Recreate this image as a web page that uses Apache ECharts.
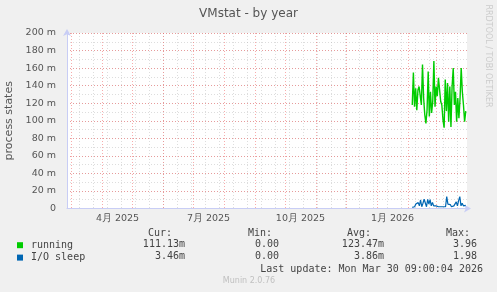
<!DOCTYPE html>
<html>
<head>
<meta charset="utf-8">
<script src="https://cdn.jsdelivr.net/npm/echarts@6/dist/echarts.min.js"></script>
<style>
html,body{margin:0;padding:0;background:#f0f0f0;}
#c{width:497px;height:292px;}
</style>
</head>
<body>
<div id="c"></div>
<script>
// ---- data (values in milli-units, "m") ----
const runningValues = [118, 155, 116, 137, 112, 135, 139, 137, 118, 164, 126, 107, 97, 112, 156, 105,
  133, 109, 122, 168, 116, 139, 128, 149, 150, 122, 118, 101, 92, 147, 111, 143, 99, 139, 93, 139,
  160, 118, 133, 99, 126, 103, 126, 160, 133, 118, 99, 111];
const ioSleepValues = [1.3, 3, 2, 5, 4, 6.7, 3, 9.7, 2, 6, 10.5, 10, 2, 10.5, 5, 10, 3, 7, 3, 4, 3, 3.5,
  2, 4, 2, 3, 2, 4, 2, 13.5, 5, 3, 4.5, 2, 3, 3, 4.5, 7.5, 3, 9, 13.5, 3, 6, 3, 5, 3.5];
const seriesStart = Date.UTC(2026, 1, 4, 18);
const seriesEnd = Date.UTC(2026, 2, 30, 6);

const xMin = Date.UTC(2025, 1, 24, 12);
const xMax = Date.UTC(2026, 2, 31, 12);

const xTickLabels = ['4月 2025', '7月 2025', '10月 2025', '1月 2026'];
const xTickLabelDates = [Date.UTC(2025, 3, 16), Date.UTC(2025, 6, 16), Date.UTC(2025, 9, 16), Date.UTC(2026, 0, 16)];

const yMin = 0, yMax = 200, yMajor = 20, yMinor = 10;

const legendNames = ['running', 'I/O sleep'];
const legendColors = ['#00cc00', '#0066b3'];
const statHeaders = ['Cur:', 'Min:', 'Avg:', 'Max:'];
const runningStats = ['111.13m', '0.00', '123.47m', '3.96'];
const ioSleepStats = ['3.46m', '0.00', '3.86m', '1.98'];
const lastUpdate = 'Last update: Mon Mar 30 09:00:04 2026';
const footer = 'Munin 2.0.76';
const titleText = 'VMstat - by year';
const yAxisTitle = 'process states';
const sideText = 'RRDTOOL / TOBI OETIKER';

// ---- grid positions (month starts, biweekly Sundays) ----
const DAY = 86400000;
const monthStarts = [];
for (let k = 0; k <= 12; k++) monthStarts.push(Date.UTC(2025, 2 + k, 1));
const biweekly = [];
for (let t = Date.UTC(2025, 2, 9); t < xMax; t += 14 * DAY) biweekly.push(t);

function toPairs(values) {
  const n = values.length;
  const step = (seriesEnd - seriesStart) / (n - 1);
  return values.map((v, i) => [seriesStart + i * step, v]);
}

const AXIS_COLOR = '#c8cdf5';
const RED_GRID = 'rgba(240,90,90,0.5)';
const GRAY_GRID = 'rgba(180,180,180,0.45)';
const txt = '#555';

const chart = echarts.init(document.getElementById('c'), null, {renderer: 'canvas'});

const mono = 'DejaVu Sans Mono';
const graphics = [];
const headerRight = [172, 272, 371, 470];
const valueRight = [185, 279, 384, 477];
statHeaders.forEach((h, i) => graphics.push({type: 'text', x: headerRight[i], y: 233,
  style: {text: h, fill: '#444', font: '10px "' + mono + '"', textAlign: 'right', textVerticalAlign: 'middle'}}));
[runningStats, ioSleepStats].forEach((row, r) => row.forEach((s, i) => graphics.push({type: 'text',
  x: valueRight[i], y: 244.5 + r * 12.4,
  style: {text: s, fill: '#444', font: '10px "' + mono + '"', textAlign: 'right', textVerticalAlign: 'middle'}})));
graphics.push({type: 'text', x: 483, y: 269, style: {text: lastUpdate, fill: '#444', font: '10px "' + mono + '"', textAlign: 'right', textVerticalAlign: 'middle'}});
graphics.push({type: 'text', x: 249, y: 281, style: {text: footer, fill: '#c0c0c0', font: '8px "DejaVu Sans"', textAlign: 'center', textVerticalAlign: 'middle'}});
graphics.push({type: 'text', x: 488, y: 56, rotation: -Math.PI / 2, style: {text: sideText, fill: '#cccccc', font: '8px "DejaVu Sans"', textAlign: 'center', textVerticalAlign: 'middle'}});

chart.setOption({
  animation: false,
  backgroundColor: '#f0f0f0',
  title: {text: titleText, left: 'center', top: 3,
    textStyle: {fontFamily: 'DejaVu Sans', fontSize: 12, fontWeight: 'normal', color: '#555'}},
  grid: {left: 67, right: 30, top: 33, bottom: 83.5, containLabel: false, outerBoundsMode: 'none',
    show: true, backgroundColor: '#ffffff', borderWidth: 0},
  legend: {data: legendNames, orient: 'vertical', left: 12, top: 235, itemWidth: 6, itemHeight: 6,
    itemGap: 2, icon: 'rect', selectedMode: false,
    textStyle: {fontFamily: mono, fontSize: 10, color: '#444', lineHeight: 10.4, padding: [0, 0, 0, 3]}},
  xAxis: [
    {type: 'value', position: 'bottom', min: xMin, max: xMax, z: 0,
      axisLine: {show: false}, axisLabel: {show: false},
      axisTick: {show: false, customValues: biweekly},
      splitLine: {show: true, lineStyle: {color: GRAY_GRID, type: [1, 2], width: 1}}},
    {type: 'value', position: 'bottom', min: xMin, max: xMax, z: 1,
      axisLine: {show: true, onZero: false, lineStyle: {color: AXIS_COLOR, width: 1}, symbol: ['none', 'arrow'], symbolSize: [6, 7], symbolOffset: [0, 4]},
      axisTick: {show: false, customValues: monthStarts},
      axisLabel: {show: true, customValues: xTickLabelDates, margin: 5,
        fontFamily: 'DejaVu Sans', fontSize: 9.5, color: txt,
        formatter: function (v) {
          const i = xTickLabelDates.findIndex(d => Math.abs(d - v) < DAY / 2);
          return i >= 0 ? xTickLabels[i] : '';
        }},
      splitLine: {show: true, lineStyle: {color: RED_GRID, type: [1, 2], width: 1}}}
  ],
  yAxis: [
    {type: 'value', position: 'left', min: yMin, max: yMax, interval: yMinor, z: 0,
      axisLine: {show: false}, axisTick: {show: false}, axisLabel: {show: false},
      splitLine: {show: true, lineStyle: {color: GRAY_GRID, type: [1, 2], width: 1}}},
    {type: 'value', position: 'left', min: yMin, max: yMax, interval: yMajor, z: 1,
      name: yAxisTitle, nameLocation: 'middle', nameGap: 52,
      nameTextStyle: {fontFamily: 'DejaVu Sans', fontSize: 11, color: txt},
      axisLine: {show: true, onZero: false, lineStyle: {color: AXIS_COLOR, width: 1}, symbol: ['none', 'arrow'], symbolSize: [6, 7], symbolOffset: [0, 4]},
      axisTick: {show: false},
      axisLabel: {fontFamily: 'DejaVu Sans', fontSize: 9.5, color: txt, margin: 11,
        formatter: v => v === 0 ? '0' : v + ' m'},
      splitLine: {show: true, lineStyle: {color: RED_GRID, type: [1, 2], width: 1}}}
  ],
  series: [
    {name: legendNames[0], type: 'line', xAxisIndex: 1, yAxisIndex: 1, data: toPairs(runningValues),
      showSymbol: false, symbol: 'none', color: legendColors[0], lineStyle: {width: 1.4, color: legendColors[0]}},
    {name: legendNames[1], type: 'line', xAxisIndex: 1, yAxisIndex: 1, data: toPairs(ioSleepValues),
      showSymbol: false, symbol: 'none', color: legendColors[1], lineStyle: {width: 1.2, color: legendColors[1]}}
  ],
  graphic: graphics
});
</script>
</body>
</html>
